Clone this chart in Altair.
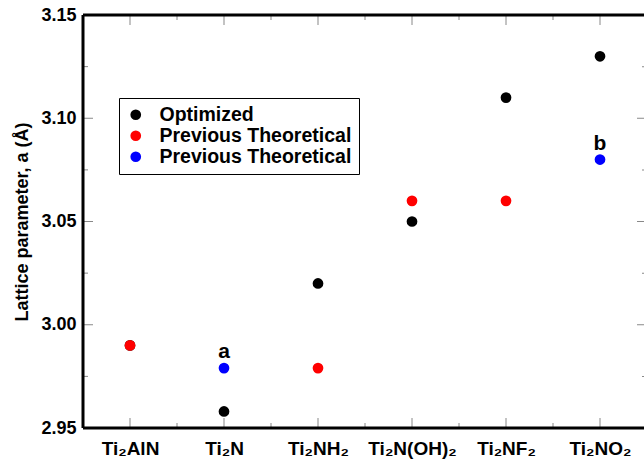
import json
import altair as alt
import pandas as pd

# Compounds along the x axis (position 1..6) and lattice parameters a (Å)
compounds = ["Ti₂AlN", "Ti₂N", "Ti₂NH₂", "Ti₂N(OH)₂", "Ti₂NF₂", "Ti₂NO₂"]
positions = [1, 2, 3, 4, 5, 6]
optimized = [2.99, 2.958, 3.02, 3.05, 3.11, 3.13]
previous_red = [2.99, None, 2.979, 3.06, 3.06, None]
previous_blue = [None, 2.979, None, None, None, 3.08]
blue_notes = ["", "a", "", "", "", "b"]

# Axis tick values
y_major = [2.95, 3.00, 3.05, 3.10, 3.15]
y_minor = [2.975, 3.025, 3.075, 3.125]
x_major = [1, 2, 3, 4, 5, 6]
x_minor = [1.5, 2.5, 3.5, 4.5, 5.5]

X_DOMAIN = [0.5, 6.5]
Y_DOMAIN = [2.95, 3.15]
FONT = "Liberation Sans"

rows = []
for series, values in (("opt", optimized), ("prevA", previous_red), ("prevB", previous_blue)):
    for pos, val, note in zip(positions, values, blue_notes):
        if val is not None:
            rows.append({"pos": pos, "a": val, "series": series,
                         "note": note if series == "prevB" else ""})
points_df = pd.DataFrame(rows)

label_expr = json.dumps(compounds, ensure_ascii=False) + "[datum.value - 1]"

# the plot area is cut at the right edge of the page, just short of x = 6.5
x_scale = alt.Scale(domain=[0.5, 6.468], nice=False, zero=False)
y_scale = alt.Scale(domain=Y_DOMAIN, nice=False, zero=False)

x_enc = alt.X(
    "pos:Q", scale=x_scale,
    axis=alt.Axis(values=x_major, labelExpr=label_expr, title=None, ticks=False,
                  domain=False, grid=False, labelFont=FONT, labelFontWeight="bold",
                  labelFontSize=19, labelColor="black", labelPadding=11),
)
y_enc = alt.Y(
    "a:Q", scale=y_scale,
    axis=alt.Axis(values=y_major, format=".2f", title="Lattice parameter, a (Å)",
                  ticks=False, domain=False, grid=False, labelFont=FONT,
                  labelFontWeight="bold", labelFontSize=18, labelColor="black",
                  labelPadding=7, titleFont=FONT, titleFontWeight="bold",
                  titleFontSize=18, titleColor="black", titlePadding=9),
)

points = alt.Chart(points_df).mark_circle(size=115, opacity=1).encode(
    x=x_enc,
    y=y_enc,
    color=alt.Color(
        "series:N",
        scale=alt.Scale(domain=["opt", "prevA", "prevB"], range=["#000000", "#ff0000", "#0000ff"]),
        legend=alt.Legend(
            title=None, orient="none", legendX=36, legendY=83,
            labelExpr="datum.value == 'opt' ? 'Optimized' : 'Previous Theoretical'",
            labelFont=FONT, labelFontWeight="bold", labelFontSize=19.5, labelColor="black",
            labelLimit=0,
            symbolType="circle", symbolSize=115, symbolStrokeWidth=0,
            strokeColor="black", padding=7, rowPadding=0, labelOffset=14,
            fillColor="white",
        ),
    ),
    order=alt.Order("series:N"),
)

notes = alt.Chart(points_df).transform_filter("datum.note != ''").mark_text(
    dy=-16, font=FONT, fontWeight="bold", fontSize=21, color="black", baseline="middle"
).encode(x=alt.X("pos:Q", scale=x_scale), y=alt.Y("a:Q", scale=y_scale), text="note:N")

# Frame lines on the four sides
frame_h = alt.Chart(pd.DataFrame({"y": Y_DOMAIN})).mark_rule(strokeWidth=3, color="black").encode(
    x=alt.datum(X_DOMAIN[0], scale=x_scale), x2=alt.datum(X_DOMAIN[1]),
    y=alt.Y("y:Q", scale=y_scale),
)
frame_v = alt.Chart(pd.DataFrame({"x": X_DOMAIN})).mark_rule(strokeWidth=3, color="black").encode(
    x=alt.X("x:Q", scale=x_scale),
    y=alt.datum(Y_DOMAIN[0], scale=y_scale), y2=alt.datum(Y_DOMAIN[1]),
)

TICK_COLOR = "#555555"

def x_ticks(values, y_val, length, inward):
    return alt.Chart(pd.DataFrame({"x": values})).mark_tick(
        orient="vertical", size=length, thickness=1, color=TICK_COLOR,
        yOffset=inward * length / 2,
    ).encode(x=alt.X("x:Q", scale=x_scale), y=alt.datum(y_val, scale=y_scale))

def y_ticks(values, x_val, length, inward):
    return alt.Chart(pd.DataFrame({"y": values})).mark_tick(
        orient="horizontal", size=length, thickness=1, color=TICK_COLOR,
        xOffset=inward * length / 2,
    ).encode(y=alt.Y("y:Q", scale=y_scale), x=alt.datum(x_val, scale=x_scale))

ticks = [
    x_ticks(x_major, Y_DOMAIN[0], 10, -1), x_ticks(x_minor, Y_DOMAIN[0], 5, -1),
    x_ticks(x_major, Y_DOMAIN[1], 10, 1), x_ticks(x_minor, Y_DOMAIN[1], 5, 1),
    y_ticks(y_major, X_DOMAIN[0], 10, 1), y_ticks(y_minor, X_DOMAIN[0], 5, 1),
    y_ticks(y_major, X_DOMAIN[1], 10, -1), y_ticks(y_minor, X_DOMAIN[1], 5, -1),
]

chart = alt.layer(*ticks, frame_h, frame_v, points, notes).properties(
    width=561, height=413,
    padding={"left": 83, "top": 15, "right": 0, "bottom": 34},
    autosize=alt.AutoSizeParams(type="none"),
).configure_view(stroke=None)

chart.save("out.html", embed_options={"renderer": "svg", "actions": False})
